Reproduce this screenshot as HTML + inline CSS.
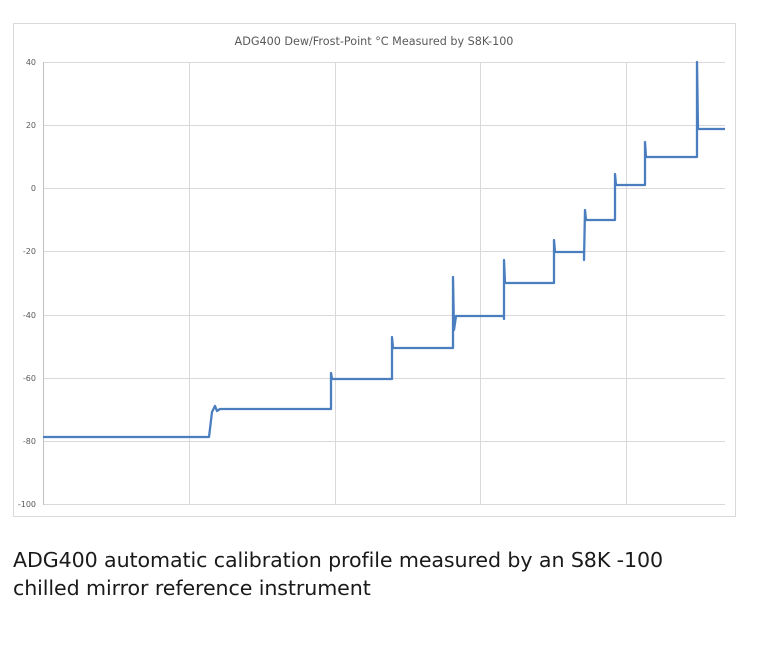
<!DOCTYPE html>
<html><head><style>
body{margin:0;background:#fff;width:768px;height:660px;overflow:hidden;font-family:"DejaVu Sans",sans-serif}
.cap{position:absolute;left:13px;top:546px;font-size:20.6px;line-height:28px;color:#1a1a1a;letter-spacing:-0.1px}
</style></head><body>
<svg width="768" height="540" style="position:absolute;left:0;top:0">
<rect x="13.5" y="23.5" width="722" height="493" fill="#fff" stroke="#d9d9d9"/>
<text x="374" y="45" font-size="11.2" font-family="DejaVu Sans" fill="#595959" text-anchor="middle">ADG400 Dew/Frost-Point °C Measured by S8K-100</text>
<g stroke="#d9d9d9" stroke-width="1">
<line x1="43" y1="62.5" x2="725" y2="62.5"/><line x1="43" y1="125.5" x2="725" y2="125.5"/>
<line x1="43" y1="188.5" x2="725" y2="188.5"/><line x1="43" y1="251.5" x2="725" y2="251.5"/>
<line x1="43" y1="315.5" x2="725" y2="315.5"/><line x1="43" y1="378.5" x2="725" y2="378.5"/>
<line x1="43" y1="441.5" x2="725" y2="441.5"/><line x1="43" y1="504.5" x2="725" y2="504.5"/>
<line x1="189.5" y1="62" x2="189.5" y2="505"/><line x1="335.5" y1="62" x2="335.5" y2="505"/>
<line x1="480.5" y1="62" x2="480.5" y2="505"/><line x1="626.5" y1="62" x2="626.5" y2="505"/>
</g>
<line x1="43.5" y1="62" x2="43.5" y2="505" stroke="#bfbfbf"/>
<g font-size="8" fill="#595959" text-anchor="end">
<text x="36" y="65">40</text><text x="36" y="128">20</text><text x="36" y="191">0</text>
<text x="36" y="254">-20</text><text x="36" y="318">-40</text><text x="36" y="381">-60</text>
<text x="36" y="444">-80</text><text x="36" y="507">-100</text>
</g>
<path fill="none" stroke="#4a7ebf" stroke-width="2.3" stroke-linejoin="round"
d="M43,437 L209,437 L212,412 L215,406 L217,411 L220,409 L331,409 L331,373 L332,379 L392,379 L392,337 L393,348 L453,348 L453,277 L454,330 L456,316 L504,316 L504,319 L504,260 L505,283 L554,283 L554,240 L555,252 L584,252 L584,260 L585,210 L586,220 L615,220 L615,174 L616,185 L645,185 L645,142 L646,157 L697,157 L697,62 L698,129 L725,129"/>
</svg>
<div class="cap">ADG400 automatic calibration profile measured by an S8K -100<br>chilled mirror reference instrument</div>
</body></html>
